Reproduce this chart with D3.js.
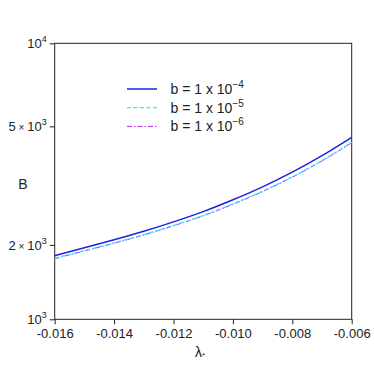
<!DOCTYPE html>
<html>
<head>
<meta charset="utf-8">
<script src="https://cdn.jsdelivr.net/npm/d3@7"></script>
<style>
  body { margin: 0; background: #fff; }
  text { font-family: "Liberation Sans", Arial, sans-serif; fill: #222; }
</style>
</head>
<body>
<div id="chart"></div>
<script>
// Data
const lambdaValues = [-0.016, -0.015, -0.014, -0.013, -0.012, -0.011, -0.010, -0.009, -0.008, -0.007, -0.006]
const b4Values = [1700, 1816, 1941, 2084, 2254, 2455, 2710, 3020, 3412, 3917, 4565]
const b5Values = [1664, 1774, 1892, 2027, 2188, 2378, 2619, 2912, 3283, 3760, 4378]
const b6Values = [1659, 1769, 1887, 2021, 2182, 2371, 2611, 2903, 3273, 3749, 4365]

const seriesNames = ['-4', '-5', '-6']
const xTicks = [-0.016, -0.014, -0.012, -0.010, -0.008, -0.006]
const yTicks = [1000, 1860, 5000, 10000]
const yTickLabels = [['', '3'], ['2', '3'], ['5', '3'], ['', '4']]

const width = 374
const height = 374
const margin = { top: 43.3, right: 22.3, bottom: 54.7, left: 54.7 }

const svg = d3.select('#chart')
  .append('svg')
  .attr('width', width)
  .attr('height', height)

const x = d3.scaleLinear()
  .domain([-0.016, -0.006])
  .range([margin.left, width - margin.right])

const y = d3.scaleLog()
  .domain([1000, 10000])
  .range([height - margin.bottom, margin.top])

// Frame
svg.append('rect')
  .attr('x', x.range()[0])
  .attr('y', y.range()[1])
  .attr('width', x.range()[1] - x.range()[0])
  .attr('height', y.range()[0] - y.range()[1])
  .attr('fill', 'none')
  .attr('stroke', '#222')
  .attr('stroke-width', 1)

// X axis
const xAxis = svg.append('g')
  .attr('transform', `translate(0, ${y.range()[0]})`)
  .call(d3.axisBottom(x).tickValues(xTicks).tickSize(5).tickPadding(4)
    .tickFormat(d => d.toFixed(3)))
xAxis.select('.domain').remove()
xAxis.selectAll('line').attr('stroke', '#222')
xAxis.selectAll('text').attr('font-size', 13).attr('fill', '#222')
  .attr('font-family', '"Liberation Sans", Arial, sans-serif')

// Y axis
const yAxis = svg.append('g')
  .attr('transform', `translate(${x.range()[0]}, 0)`)
  .call(d3.axisLeft(y).tickValues(yTicks).tickSize(5).tickFormat(''))
yAxis.select('.domain').remove()
yAxis.selectAll('line').attr('stroke', '#222')

yTicks.forEach((v, i) => {
  const [mant, exp] = yTickLabels[i]
  const t = svg.append('text')
    .attr('x', x.range()[0] - 8)
    .attr('y', y(v) + 5)
    .attr('text-anchor', 'end')
    .attr('font-size', 13)
  if (mant) {
    t.append('tspan').text(mant)
    t.append('tspan').text(' × ').attr('font-size', 10)
  }
  t.append('tspan').text('10')
  t.append('tspan').text(exp).attr('font-size', 9).attr('dy', -6)
})

// Axis titles
svg.append('text')
  .attr('x', 23)
  .attr('y', 189)
  .attr('text-anchor', 'middle')
  .attr('font-size', 14)
  .text('B')

const xTitle = svg.append('text')
  .attr('x', 200)
  .attr('y', 357)
  .attr('text-anchor', 'middle')
  .attr('font-size', 14)
xTitle.append('tspan').text('λ')
xTitle.append('tspan').text('*').attr('font-size', 8).attr('dy', 1)

// Lines
const series = [
  { values: b4Values, color: '#1f1fe6', dash: null, width: 1.5 },
  { values: b5Values, color: '#38e4ef', dash: '4,2.5', width: 1.3 },
  { values: b6Values, color: '#b026f0', dash: '5,2,1.5,2', width: 1 }
]

const line = d3.line()
  .x((d, i) => x(lambdaValues[i]))
  .y(d => y(d))
  .curve(d3.curveMonotoneX)

series.slice().reverse().forEach(s => {
  svg.append('path')
    .datum(s.values)
    .attr('d', line)
    .attr('fill', 'none')
    .attr('stroke', s.color)
    .attr('stroke-width', s.width)
    .attr('stroke-dasharray', s.dash)
})

// Legend
series.forEach((s, i) => {
  const ly = 89 + i * 18.7
  svg.append('line')
    .attr('x1', 127).attr('x2', 157)
    .attr('y1', ly).attr('y2', ly)
    .attr('stroke', s.color)
    .attr('stroke-width', s.width)
    .attr('stroke-dasharray', s.dash)
  const t = svg.append('text')
    .attr('x', 170.5)
    .attr('y', ly + 5)
    .attr('font-size', 14)
  t.append('tspan').text('b = 1 x 10')
  t.append('tspan').text(seriesNames[i].replace('-', '−')).attr('font-size', 10).attr('dy', -6)
})
</script>
</body>
</html>
